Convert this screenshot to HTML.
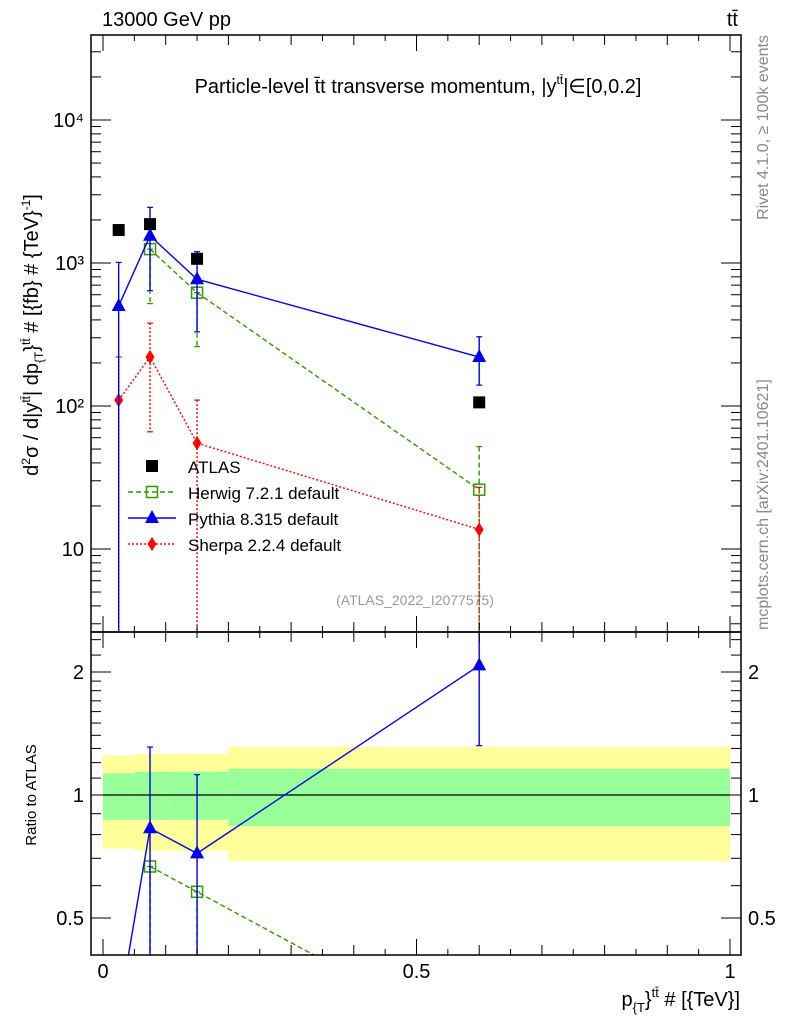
<!DOCTYPE html>
<html><head><meta charset="utf-8"><style>
html,body{margin:0;padding:0;background:#fff;overflow:hidden;width:786px;height:1024px;}
svg{display:block;font-family:"Liberation Sans",sans-serif;}
</style></head><body>
<svg id="c" width="786" height="1024" viewBox="0 0 786 1024" xmlns="http://www.w3.org/2000/svg">
<text x="102" y="26" font-size="20">13000 GeV pp</text>
<text x="738" y="26" font-size="20" text-anchor="end">tt̄</text>
<text x="418" y="93" font-size="20" text-anchor="middle">Particle-level t̄t transverse momentum, |y<tspan font-size="12" dy="-9">tt̄</tspan><tspan dy="9">|∈[0,0.2]</tspan></text>
<text transform="translate(768,35) rotate(-90)" font-size="16" fill="#888" text-anchor="end">Rivet 4.1.0, ≥ 100k events</text>
<text transform="translate(768,630) rotate(-90)" font-size="16" fill="#888" text-anchor="start">mcplots.cern.ch [arXiv:2401.10621]</text>
<text transform="translate(38,335) rotate(-90)" font-size="20" text-anchor="middle">d<tspan font-size="12" dy="-8">2</tspan><tspan dy="8">σ / d|y</tspan><tspan font-size="12" dy="-8">tt̄</tspan><tspan dy="8">| dp</tspan><tspan font-size="12" dy="5">{T</tspan><tspan dy="-5">}</tspan><tspan font-size="12" dy="-8">tt̄</tspan><tspan dy="8"> # [{fb} # {TeV}</tspan><tspan font-size="12" dy="-8">-1</tspan><tspan dy="8">]</tspan></text>
<text transform="translate(36,795) rotate(-90)" font-size="15" text-anchor="middle">Ratio to ATLAS</text>
<text x="740" y="1006" font-size="20" text-anchor="end">p<tspan font-size="13" dy="6">{T</tspan><tspan dy="-6">}</tspan><tspan font-size="13" dy="-9">tt̄</tspan><tspan dy="9"> # [{TeV}]</tspan></text>
<text x="415" y="605" font-size="14" fill="#999" text-anchor="middle">(ATLAS_2022_I2077575)</text>
<g id="g"></g>
</svg>
<script>
const binLo=[0,0.05,0.1,0.2];
const binHi=[0.05,0.1,0.2,1.0];
const xPts=[0.025,0.075,0.15,0.6];
const atlas=[1700,1870,1070,106];
const herwig=[null,1250,620,26];
const herwigUp=[null,1250,620,52];
const herwigDn=[null,520,260,1];
const pythia=[500,1550,770,220];
const pythiaUp=[1010,2450,1200,305];
const pythiaDn=[1,640,330,140];
const sherpa=[110,220,55,13.7];
const sherpaUp=[220,380,110,27];
const sherpaDn=[1,66,1,1];
const bandInUp=[1.13,1.14,1.14,1.16];
const bandInDn=[0.87,0.87,0.87,0.84];
const bandOutUp=[1.25,1.26,1.26,1.31];
const bandOutDn=[0.74,0.73,0.73,0.69];
const mainTicks=["10","10²","10³","10⁴"];
const ratioTicks=[0.5,1,2];
const xTicks=[0,0.5,1];

const L=91,R=741,T=35,M=632,B=955;
const X=v=>103+v*627;
const Y=v=>263-(Math.log10(v)-3)*143;
const YR=v=>795-Math.log2(v)*123;
const g=document.getElementById('g');
const NS='http://www.w3.org/2000/svg';
function el(t,a,p){const e=document.createElementNS(NS,t);for(const k in a)e.setAttribute(k,a[k]);(p||g).appendChild(e);return e;}

const bands=el('g',{});


for(let i=0;i<binLo.length;i++){
 const r1=el('rect',{x:X(binLo[i]),y:YR(bandOutUp[i]),width:X(binHi[i])-X(binLo[i]),height:YR(bandOutDn[i])-YR(bandOutUp[i]),fill:'#ffff99'},bands);
 
 
 const r2=el('rect',{x:X(binLo[i]),y:YR(bandInUp[i]),width:X(binHi[i])-X(binLo[i]),height:YR(bandInDn[i])-YR(bandInUp[i]),fill:'#99ff99'},bands);
 
 
}
const one=el('line',{x1:X(0),x2:X(1),y1:YR(1),y2:YR(1),stroke:'#000','stroke-width':1.2});



const defs=el('defs',{});
const c1=el('clipPath',{id:'cm'},defs);el('rect',{x:L,y:T,width:R-L,height:M-T},c1);
const c2=el('clipPath',{id:'cr'},defs);el('rect',{x:L,y:M,width:R-L,height:B-M},c2);

function marker(p,type,x,y,col){
 if(type==='sq') return el('rect',{x:x-6,y:y-6,width:12,height:12,fill:'#000'},p);
 if(type==='osq') return el('rect',{x:x-5.5,y:y-5.5,width:11,height:11,fill:'none',stroke:col,'stroke-width':1.5},p);
 if(type==='tri') return el('path',{d:`M${x},${y-8}L${x+7},${y+5}L${x-7},${y+5}Z`,fill:col},p);
 return el('path',{d:`M${x},${y-7}L${x+4.5},${y}L${x},${y+7}L${x-4.5},${y}Z`,fill:col},p);
}
function series(name,vals,up,dn,col,dash,type){
 const gm=el('g',{'clip-path':'url(#cm)'});
 
 
 const gr=el('g',{'clip-path':'url(#cr)'});
 
 
 let pm=[],pr=[];
 for(let i=0;i<vals.length;i++){ if(vals[i]==null)continue;
  pm.push(X(xPts[i])+','+Y(vals[i])); pr.push(X(xPts[i])+','+YR(vals[i]/atlas[i]));}
 if(type!=='sq'){
  el('polyline',{points:pm.join(' '),fill:'none',stroke:col,'stroke-width':1.4,'stroke-dasharray':dash},gm);
  el('polyline',{points:pr.join(' '),fill:'none',stroke:col,'stroke-width':1.4,'stroke-dasharray':dash},gr);
 }
 for(let i=0;i<vals.length;i++){ if(vals[i]==null)continue;
  const x=X(xPts[i]);
  const yr=YR(vals[i]/atlas[i]);
  const inR=yr>=M&&yr<=B;
  if(up){
   el('line',{x1:x,x2:x,y1:Y(up[i]),y2:Y(dn[i]),stroke:col,'stroke-width':1.4,'stroke-dasharray':dash},gm);
   el('line',{x1:x-3,x2:x+3,y1:Y(up[i]),y2:Y(up[i]),stroke:col,'stroke-width':1.2},gm);
   el('line',{x1:x-3,x2:x+3,y1:Y(dn[i]),y2:Y(dn[i]),stroke:col,'stroke-width':1.2},gm);
   if(inR){
   el('line',{x1:x,x2:x,y1:YR(up[i]/atlas[i]),y2:YR(dn[i]/atlas[i]),stroke:col,'stroke-width':1.4,'stroke-dasharray':dash},gr);
   el('line',{x1:x-3,x2:x+3,y1:YR(up[i]/atlas[i]),y2:YR(up[i]/atlas[i]),stroke:col,'stroke-width':1.2},gr);
   el('line',{x1:x-3,x2:x+3,y1:YR(dn[i]/atlas[i]),y2:YR(dn[i]/atlas[i]),stroke:col,'stroke-width':1.2},gr);
   }
  }
  const m=marker(gm,type,x,Y(vals[i]),col);
  
  
  if(type!=='sq'&&inR){const m2=marker(gr,type,x,yr,col);
   
   }
 }
}
series('herwig',herwig,herwigUp,herwigDn,'#339900','5,3','osq');
series('sherpa',sherpa,sherpaUp,sherpaDn,'#ff0000','2,2','dia');
series('pythia',pythia,pythiaUp,pythiaDn,'#0000ee','','tri');
series('atlas',atlas,null,null,'#000','','sq');

for(const [y1,y2,n] of [[T,M,'main-plot-frame'],[M,B,'ratio-plot-frame']]){
 const f=el('rect',{x:L,y:y1,width:R-L,height:y2-y1,fill:'none',stroke:'#000','stroke-width':1.5});
 
 
}
const ax=el('g',{});


for(let k=0;k<=20;k++){const v=k*0.05,x=X(v),len=(k%10===0)?16:(k%2===0?10:6);
 for(const [yb,yt] of [[M,T],[B,M]]){el('line',{x1:x,x2:x,y1:yb,y2:yb-len,stroke:'#000'},ax);el('line',{x1:x,x2:x,y1:yt,y2:yt+len,stroke:'#000'},ax);}
}
xTicks.forEach(v=>{const t=el('text',{x:X(v),y:978,'font-size':20,'text-anchor':'middle'},ax);t.textContent=String(v);});
const ay=el('g',{});


for(let d=0;d<=4;d++)for(let m=1;m<10;m++){const v=m*Math.pow(10,d);const y=Y(v);if(y<T||y>M)continue;
 const len=m===1?20:10;el('line',{x1:L,x2:L+len,y1:y,y2:y,stroke:'#000'},ay);el('line',{x1:R,x2:R-len,y1:y,y2:y,stroke:'#000'},ay);}
mainTicks.forEach((s,i)=>{const t=el('text',{x:84,y:Y(Math.pow(10,i+1))+7,'font-size':20,'text-anchor':'end'},ay);t.textContent=s;});
const ar=el('g',{});


for(let v=0.4;v<=2.6;v+=0.1){const vv=Math.round(v*10)/10;const y=YR(vv);if(y<M||y>B)continue;
 const maj=(vv===0.5||vv===1||vv===2);const len=maj?20:10;
 if(vv>2&&Math.round(vv*10)%2===1)continue;
 el('line',{x1:L,x2:L+len,y1:y,y2:y,stroke:'#000'},ar);el('line',{x1:R,x2:R-len,y1:y,y2:y,stroke:'#000'},ar);}
ratioTicks.forEach(v=>{const y=YR(v)+7;
 const t=el('text',{x:84,y:y,'font-size':20,'text-anchor':'end'},ar);t.textContent=String(v);
 const t2=el('text',{x:748,y:y,'font-size':20},ar);t2.textContent=String(v);});
const lg=el('g',{});


const items=[['ATLAS','#000','','sq'],['Herwig 7.2.1 default','#339900','5,3','osq'],['Pythia 8.315 default','#0000ee','','tri'],['Sherpa 2.2.4 default','#ff0000','2,2','dia']];
items.forEach((it,i)=>{const y=466+i*26;
 const e=el('g',{},lg);
 
 
 if(it[3]!=='sq')el('line',{x1:128,x2:176,y1:y,y2:y,stroke:it[1],'stroke-width':1.4,'stroke-dasharray':it[2]},e);
 marker(e,it[3],152,y,it[1]);
 const t=el('text',{x:188,y:y+7,'font-size':17},e);t.textContent=it[0];});
</script>
</body></html>
